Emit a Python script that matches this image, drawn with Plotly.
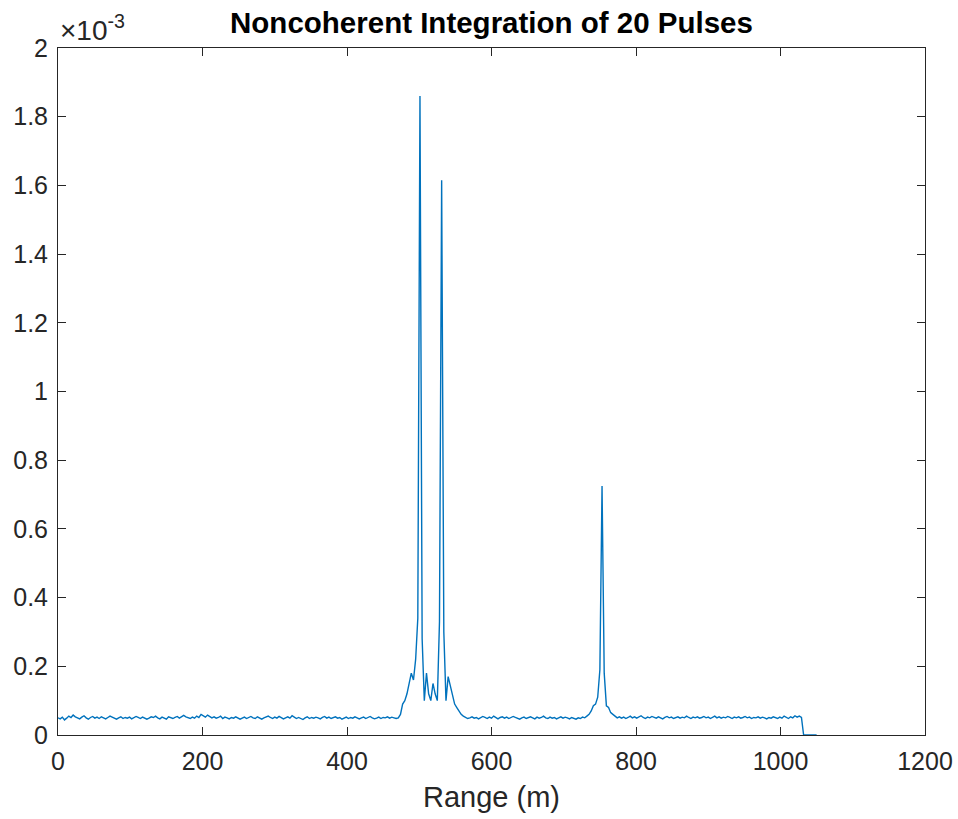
import numpy as np
import plotly.graph_objects as go

# Range bins (m), 3 m spacing from 0 to 1050 m
range_step_m = 3
n_bins = 351
range_m = np.arange(n_bins) * range_step_m

# Integrated power, in units of 1e-3
baseline_a = [
    0.05, 0.047, 0.052, 0.044, 0.049, 0.055, 0.051, 0.058, 0.053, 0.049,
    0.047, 0.052, 0.056, 0.05, 0.046, 0.051, 0.054, 0.049, 0.052, 0.048,
    0.053, 0.05, 0.047, 0.051, 0.055, 0.052, 0.049, 0.046, 0.05, 0.053,
    0.048, 0.051, 0.049, 0.052, 0.047, 0.05, 0.054, 0.051, 0.048, 0.052,
    0.05, 0.046, 0.049, 0.053, 0.051, 0.055, 0.05, 0.047, 0.052, 0.049,
    0.046, 0.053, 0.05, 0.048, 0.051, 0.054, 0.049, 0.052, 0.057, 0.053,
    0.05, 0.048, 0.052, 0.049, 0.055, 0.051, 0.06, 0.056, 0.052, 0.058,
    0.054, 0.05, 0.053, 0.049, 0.051, 0.055, 0.048, 0.052, 0.05, 0.047,
    0.051, 0.049, 0.053, 0.05, 0.046, 0.049, 0.052, 0.048, 0.051, 0.054,
    0.05, 0.048, 0.053, 0.049, 0.046, 0.05, 0.052, 0.055, 0.051, 0.048,
    0.052, 0.049, 0.054, 0.051, 0.047, 0.05, 0.053, 0.049, 0.056, 0.052,
    0.048, 0.051, 0.049, 0.045, 0.05, 0.053, 0.048, 0.051, 0.049, 0.052,
    0.05, 0.047, 0.051, 0.054, 0.049, 0.052, 0.048, 0.05, 0.053, 0.049,
    0.051, 0.046, 0.05, 0.052, 0.048, 0.051, 0.049, 0.053, 0.05, 0.047,
    0.05, 0.052, 0.048, 0.051, 0.054, 0.05, 0.047, 0.049, 0.052, 0.048,
    0.051, 0.05, 0.053, 0.049, 0.052, 0.05, 0.048,
]
targets_ab = [
    0.05, 0.06, 0.09, 0.10, 0.12, 0.15, 0.18, 0.16, 0.22, 0.34,
    1.86, 0.28, 0.10, 0.18, 0.12, 0.10, 0.15, 0.12, 0.10, 0.33,
    1.615, 0.30, 0.10, 0.17, 0.14, 0.12, 0.09, 0.08, 0.07, 0.06, 0.055,
]
baseline_c = [
    0.052, 0.048, 0.05, 0.053, 0.049, 0.051, 0.047, 0.05, 0.054, 0.051,
    0.048, 0.052, 0.049, 0.055, 0.05, 0.047, 0.051, 0.053, 0.049, 0.052,
    0.048, 0.05, 0.054, 0.051, 0.049, 0.046, 0.05, 0.052, 0.048, 0.051,
    0.053, 0.05, 0.047, 0.052, 0.049, 0.051, 0.055, 0.05, 0.048, 0.052,
    0.049, 0.051, 0.047, 0.05, 0.053, 0.049, 0.052, 0.05, 0.047, 0.051,
    0.049, 0.046, 0.05, 0.048, 0.052, 0.05, 0.055,
]
target_c = [0.06, 0.07, 0.085, 0.09, 0.11, 0.19, 0.725, 0.18, 0.085, 0.08, 0.065, 0.06, 0.055]
baseline_e = [
    0.05, 0.053, 0.049, 0.052, 0.048, 0.051, 0.055, 0.05, 0.053, 0.049,
    0.052, 0.056, 0.051, 0.048, 0.052, 0.05, 0.054, 0.051, 0.049, 0.053,
    0.05, 0.047, 0.051, 0.054, 0.05, 0.052, 0.048, 0.051, 0.053, 0.049,
    0.052, 0.05, 0.055, 0.051, 0.048, 0.052, 0.05, 0.053, 0.049, 0.051,
    0.054, 0.05, 0.052, 0.048, 0.051, 0.055, 0.05, 0.053, 0.049, 0.052,
    0.05, 0.054, 0.051, 0.048, 0.052, 0.05, 0.053, 0.049, 0.051, 0.054,
    0.05, 0.052, 0.048, 0.051, 0.05, 0.053, 0.049, 0.052, 0.05, 0.047,
    0.051, 0.049, 0.053, 0.05, 0.048, 0.052, 0.049, 0.055, 0.051, 0.048,
    0.053, 0.05, 0.056, 0.052, 0.055, 0.051,
]
tail_zero = [0, 0, 0, 0, 0, 0, 0]

power_e3 = baseline_a + targets_ab + baseline_c + target_c + baseline_e + tail_zero

x_ticks = [0, 200, 400, 600, 800, 1000, 1200]
y_ticks = [0, 0.2, 0.4, 0.6, 0.8, 1, 1.2, 1.4, 1.6, 1.8, 2]
y_tick_text = ["0", "0.2", "0.4", "0.6", "0.8", "1", "1.2", "1.4", "1.6", "1.8", "2"]

FONT = "Liberation Sans, Arial, Helvetica, sans-serif"
AX = "#262626"
W, H = 958, 819

fig = go.Figure(
    go.Scatter(
        x=range_m[: len(power_e3)],
        y=power_e3,
        mode="lines",
        line=dict(color="#0072BD", width=1.4),
        hoverinfo="x+y",
    )
)

axis_common = dict(
    showline=True, linecolor=AX, linewidth=1, mirror="ticks",
    ticks="inside", ticklen=8, tickwidth=1, tickcolor=AX,
    showgrid=False, zeroline=False, automargin=False,
    tickfont=dict(family=FONT, size=25, color=AX),
)

fig.update_layout(
    width=W, height=H,
    margin=dict(l=58, r=33, t=48, b=84),
    paper_bgcolor="white", plot_bgcolor="white",
    showlegend=False,
    title=dict(
        text="<b>Noncoherent Integration of 20 Pulses</b>",
        x=0.5, xref="paper", xanchor="center",
        y=1 - 23 / H, yref="container", yanchor="middle",
        font=dict(family=FONT, size=29.5, color="#000000"),
    ),
    xaxis=dict(
        range=[0, 1200], tickvals=x_ticks,
        ticklabelstandoff=4,
        title=dict(text="Range (m)", font=dict(family=FONT, size=29, color=AX), standoff=12),
        **axis_common,
    ),
    yaxis=dict(
        range=[0, 2], tickvals=y_ticks, ticktext=y_tick_text,
        ticklabelstandoff=4,
        **axis_common,
    ),
    annotations=[
        dict(
            text="×10<sup>-3</sup>",
            xref="paper", yref="paper", x=0.0, y=1.0,
            xanchor="left", yanchor="bottom", showarrow=False,
            font=dict(family=FONT, size=28, color=AX),
            yshift=0, xshift=0,
        )
    ],
)

fig.write_html(
    "out.html",
    config={"displayModeBar": False},
    post_script="document.body.style.margin='0';document.body.style.overflow='hidden';",
)
